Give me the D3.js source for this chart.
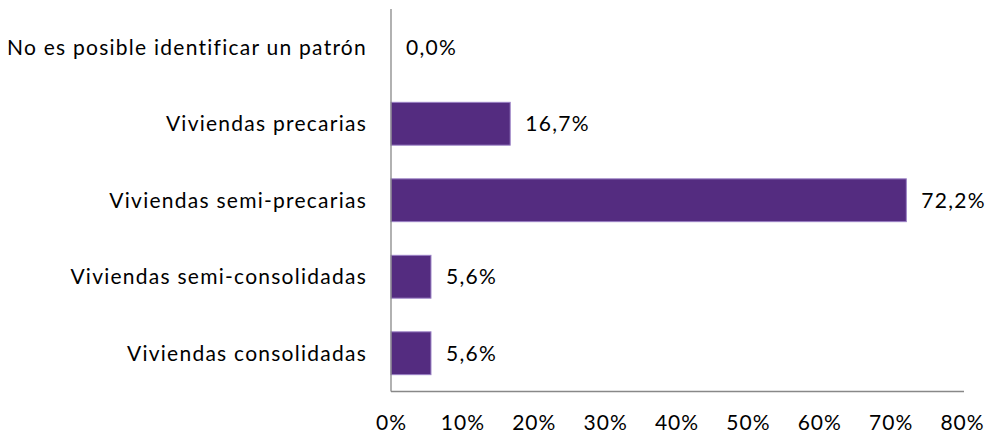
<!DOCTYPE html>
<html><head><meta charset="utf-8">
<script src="https://cdn.jsdelivr.net/npm/d3@7"></script>
<style>body{margin:0;background:#fff;} text{font-family:Lato,"Open Sans",sans-serif;fill:#000;}</style>
</head><body><svg id="c" width="988" height="435"></svg>
<script>
const categories = ["No es posible identificar un patrón","Viviendas precarias","Viviendas semi-precarias","Viviendas semi-consolidadas","Viviendas consolidadas"];
const values = [0.0, 16.7, 72.2, 5.6, 5.6];
const ticks = [0,10,20,30,40,50,60,70,80];

const svg = d3.select("#c");
const x = d3.scaleLinear().domain([0,80]).range([391,962]);
const y = d3.scaleBand().domain(categories).range([9,391.5]).paddingInner(0.44).paddingOuter(0.22);
const fs = 21;

svg.selectAll("rect.bar").data(values).join("rect").attr("class","bar")
  .attr("x", x(0)).attr("y",(d,i)=>y(categories[i]))
  .attr("width", d=>x(d)-x(0)).attr("height", y.bandwidth())
  .attr("fill","#542c80").attr("stroke", d=>d>0?"#9a80c4":"none").attr("stroke-width",1)
  .attr("display", d=>d>0?null:"none");

// axes lines
svg.append("line").attr("x1",x(0)).attr("x2",x(0)).attr("y1",9).attr("y2",391.5).attr("stroke","#888").attr("stroke-width",1.3);
svg.append("line").attr("x1",x(0)).attr("x2",964).attr("y1",391.5).attr("y2",391.5).attr("stroke","#888").attr("stroke-width",1.3);

// category labels
svg.selectAll("text.cat").data(categories).join("text").attr("class","cat")
  .attr("x",367).attr("y",d=>y(d)+y.bandwidth()/2).attr("dy","0.35em")
  .attr("text-anchor","end").attr("font-size",fs).attr("letter-spacing","1.25px").text(d=>d);

// value labels
const fmt = d=>d.toFixed(1).replace(".",",")+"%";
svg.selectAll("text.val").data(values).join("text").attr("class","val")
  .attr("x",d=>x(d)+15).attr("y",(d,i)=>y(categories[i])+y.bandwidth()/2).attr("dy","0.35em")
  .attr("font-size",fs).attr("letter-spacing","1.3px").text(fmt);

// tick labels
svg.selectAll("text.tick").data(ticks).join("text").attr("class","tick")
  .attr("x",d=>x(d)+0.5).attr("y",423).attr("dy","0.35em")
  .attr("text-anchor","middle").attr("font-size",fs).attr("letter-spacing","1px").text(d=>d+"%");
</script></body></html>
